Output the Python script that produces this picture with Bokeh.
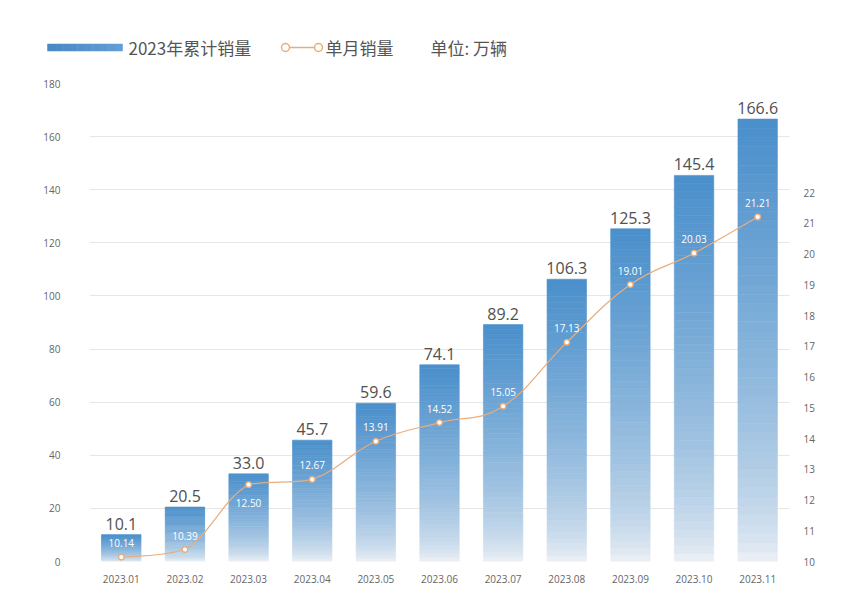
from bokeh.plotting import figure
from bokeh.models import Range1d, LinearAxis, FixedTicker
from bokeh.layouts import column
from bokeh.core.properties import value
from bokeh.embed import file_html
from bokeh.resources import INLINE

# ---------------- data ----------------
months = ["2023.01", "2023.02", "2023.03", "2023.04", "2023.05", "2023.06",
          "2023.07", "2023.08", "2023.09", "2023.10", "2023.11"]
cumulative = [10.1, 20.5, 33.0, 45.7, 59.6, 74.1, 89.2, 106.3, 125.3, 145.4, 166.6]
monthly = [10.14, 10.39, 12.50, 12.67, 13.91, 14.52, 15.05, 17.13, 19.01, 20.03, 21.21]
left_ticks = [0, 20, 40, 60, 80, 100, 120, 140, 160, 180]
right_ticks = [10, 11, 12, 13, 14, 15, 16, 17, 18, 19, 20, 21, 22]
legend_bar_label = "2023年累计销量"
legend_line_label = "单月销量"
unit_label = "单位: 万辆"

# ---------------- style ----------------
W = 836
LEG_H = 68
MAIN_H = 527
MB_TOP, MB_BOT, MB_LEFT, MB_RIGHT = 15, 34, 89, 47
FRAME_H = MAIN_H - MB_TOP - MB_BOT
LEFT_MAX = 180
RIGHT_MIN, RIGHT_MAX = 10, 25.55
TOP_COL = (74, 143, 203)
BOT_COL = (244, 245, 247)
LINE_COL = "#e8ad7c"
NUM_FONT = "Open Sans"
CJK_FONT = "Noto Sans CJK SC"
BAR_W = 0.62
N_SLICES = 48


def mix(c0, c1, t):
    return "#%02x%02x%02x" % tuple(int(round(a + (b - a) * t)) for a, b in zip(c0, c1))


x = list(range(1, len(months) + 1))

# ---------------- main figure ----------------
p = figure(width=W, height=MAIN_H, x_range=Range1d(0.5, len(months) + 0.5),
           y_range=Range1d(0, LEFT_MAX), output_backend="svg", toolbar_location=None,
           min_border_top=MB_TOP, min_border_bottom=MB_BOT,
           min_border_left=MB_LEFT, min_border_right=MB_RIGHT)
p.outline_line_color = None
p.background_fill_color = "white"
p.border_fill_color = "white"
p.extra_y_ranges = {"right": Range1d(RIGHT_MIN, RIGHT_MAX)}

# gradient bars (stacked slices computed from each value)
ql, qr, qb, qt, qc = [], [], [], [], []
for xi, v in zip(x, cumulative):
    for k in range(N_SLICES):
        t = (k + 0.5) / N_SLICES
        ql.append(xi - BAR_W / 2)
        qr.append(xi + BAR_W / 2)
        qb.append(v * k / N_SLICES)
        qt.append(v * (k + 1) / N_SLICES)
        qc.append(mix(BOT_COL, TOP_COL, t ** 0.6))
p.quad(left=ql, right=qr, bottom=qb, top=qt, fill_color=qc, line_color=qc, line_width=0.6)

# bar value labels
p.text(x=x, y=cumulative, text=["%.1f" % v for v in cumulative], text_align="center",
       text_baseline="bottom", y_offset=-5, text_font=value(NUM_FONT),
       text_font_size="16px", text_color="#505050")

# smoothed monthly line (through the data points, control points clamped)
ys = monthly
S = 0.2
x0s, y0s, x1s, y1s, cx0, cy0, cx1, cy1 = [], [], [], [], [], [], [], []
n = len(x)
for i in range(n - 1):
    xp, yp = (x[i - 1], ys[i - 1]) if i > 0 else (x[i], ys[i])
    xn2, yn2 = (x[i + 2], ys[i + 2]) if i + 2 < n else (x[i + 1], ys[i + 1])
    lo, hi = min(ys[i], ys[i + 1]), max(ys[i], ys[i + 1])
    c1x = x[i] + (x[i + 1] - xp) * S
    c1y = min(max(ys[i] + (ys[i + 1] - yp) * S, lo), hi)
    c2x = x[i + 1] - (xn2 - x[i]) * S
    c2y = min(max(ys[i + 1] - (yn2 - ys[i]) * S, lo), hi)
    x0s.append(x[i]); y0s.append(ys[i]); x1s.append(x[i + 1]); y1s.append(ys[i + 1])
    cx0.append(c1x); cy0.append(c1y); cx1.append(c2x); cy1.append(c2y)
p.bezier(x0=x0s, y0=y0s, x1=x1s, y1=y1s, cx0=cx0, cy0=cy0, cx1=cx1, cy1=cy1,
         line_color=LINE_COL, line_width=1.2, y_range_name="right")
p.scatter(x=x, y=monthly, size=5.5, marker="circle", fill_color="white",
          line_color=LINE_COL, line_width=1.3, y_range_name="right")

# monthly value labels: above the point unless that would leave the bar
r_per_px = (RIGHT_MAX - RIGHT_MIN) / FRAME_H
l_per_px = LEFT_MAX / FRAME_H
lab_y = []
for v, m in zip(cumulative, monthly):
    above = m + 14 * r_per_px
    top_px_left = (above - RIGHT_MIN) / (RIGHT_MAX - RIGHT_MIN) * LEFT_MAX + 7 * l_per_px
    if top_px_left > v - 1 * l_per_px:
        lab_y.append(m - 18 * r_per_px)
    else:
        lab_y.append(above)
p.text(x=x, y=lab_y, text=["%.2f" % m for m in monthly], text_align="center",
       text_baseline="middle", text_font=value(NUM_FONT), text_font_size="10px",
       text_color="white", y_range_name="right")

# axes
p.xaxis.ticker = FixedTicker(ticks=x)
p.xaxis.major_label_overrides = {xi: m for xi, m in zip(x, months)}
p.yaxis.ticker = FixedTicker(ticks=left_ticks)
right_axis = LinearAxis(y_range_name="right", ticker=FixedTicker(ticks=right_ticks))
p.add_layout(right_axis, "right")
for ax in [p.xaxis[0], p.yaxis[0], right_axis]:
    ax.axis_line_color = None
    ax.major_tick_line_color = None
    ax.minor_tick_line_color = None
    ax.major_label_text_color = "#666666"
    ax.major_label_text_font = NUM_FONT
    ax.major_label_text_font_size = "10px"
p.xaxis.major_label_standoff = 7
p.yaxis[0].major_label_standoff = 23
right_axis.major_label_standoff = 8

p.xgrid.grid_line_color = None
p.ygrid.ticker = FixedTicker(ticks=left_ticks)
p.ygrid.grid_line_color = "#e6e6e6"
p.ygrid.grid_line_width = 1

# ---------------- legend figure ----------------
lg = figure(width=W, height=LEG_H, x_range=Range1d(0, W), y_range=Range1d(LEG_H, 0),
            output_backend="svg", toolbar_location=None, min_border=0,
            x_axis_location=None, y_axis_location=None)
lg.outline_line_color = None
lg.xgrid.visible = False
lg.ygrid.visible = False

for fig in (p, lg):
    if "frame_align" in fig.properties():
        fig.frame_align = False

LY = 47
segs = 10
sl = [47 + (122 - 47) * k / segs for k in range(segs)]
sr = [47 + (122 - 47) * (k + 1) / segs for k in range(segs)]
sc = [mix((74, 136, 198), (96, 158, 212), k / (segs - 1)) for k in range(segs)]
lg.quad(left=sl, right=sr, top=[LY - 3.5] * segs, bottom=[LY + 3.5] * segs,
        fill_color=sc, line_color=sc, line_width=0.5)
lg.text(x=[128], y=[LY], text=[legend_bar_label], text_baseline="middle",
        text_font=value(CJK_FONT), text_font_size="17px", text_color="#555555")
lg.line(x=[285, 318], y=[LY, LY], line_color=LINE_COL, line_width=1.5)
lg.scatter(x=[285, 318], y=[LY, LY], size=8, marker="circle", fill_color="white",
           line_color=LINE_COL, line_width=1.5)
lg.text(x=[325], y=[LY], text=[legend_line_label], text_baseline="middle",
        text_font=value(CJK_FONT), text_font_size="17px", text_color="#555555")
lg.text(x=[430], y=[LY], text=[unit_label], text_baseline="middle",
        text_font=value(CJK_FONT), text_font_size="17px", text_color="#555555")

layout = column(lg, p, spacing=0)
open("out.html", "w").write(file_html(layout, INLINE))
